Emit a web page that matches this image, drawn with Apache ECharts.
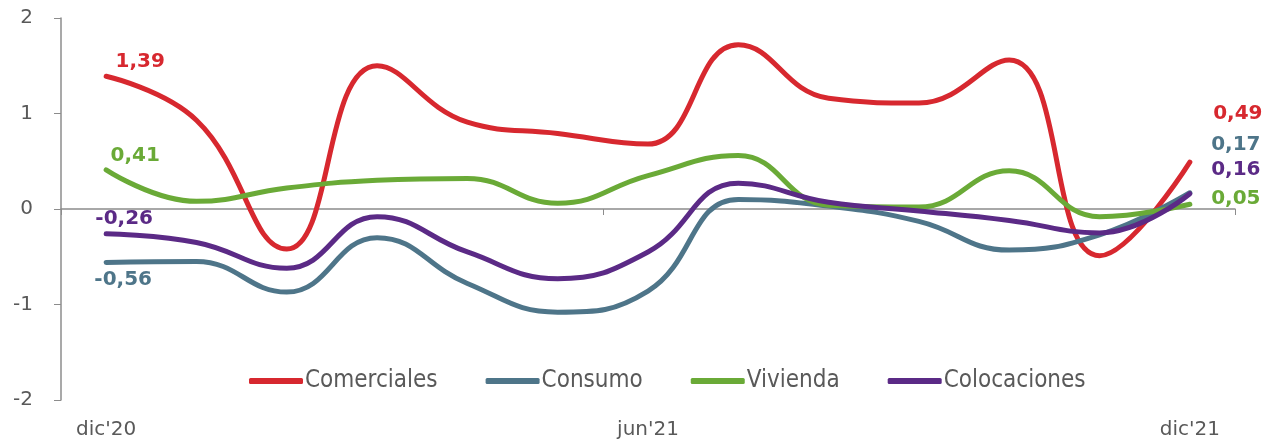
<!DOCTYPE html>
<html>
<head>
<meta charset="utf-8">
<script src="https://cdn.jsdelivr.net/npm/echarts@6/dist/echarts.min.js"></script>
<style>
  html, body { margin: 0; padding: 0; background: #fff; }
  #chart { width: 1277px; height: 442px; }
</style>
</head>
<body>
<div id="chart"></div>
<script>
var months = ["dic'20", "ene'21", "feb'21", "mar'21", "abr'21", "may'21", "jun'21",
              "jul'21", "ago'21", "sep'21", "oct'21", "nov'21", "dic'21"];
var comerciales  = [1.39, 0.93, -0.42, 1.50, 0.91, 0.79, 0.68, 1.72, 1.16, 1.11, 1.56, -0.49, 0.49];
var consumo      = [-0.56, -0.55, -0.87, -0.30, -0.78, -1.08, -0.86, 0.10, 0.03, -0.13, -0.43, -0.27, 0.17];
var vivienda     = [0.41, 0.08, 0.22, 0.30, 0.32, 0.06, 0.35, 0.56, 0.04, 0.02, 0.40, -0.08, 0.05];
var colocaciones = [-0.26, -0.35, -0.62, -0.08, -0.45, -0.73, -0.45, 0.27, 0.07, -0.02, -0.12, -0.25, 0.16];

var myChart = echarts.init(document.getElementById('chart'));

function fmt(p) {
    return p.value.toFixed(2).replace('.', ',');
}

// etiquetas solo en el primer y el ultimo punto
function withLabels(values, color, firstOffset, lastOffset) {
    return values.map(function (v, i) {
        if (i === 0 || i === values.length - 1) {
            return {
                value: v,
                label: {
                    show: true,
                    position: 'inside',
                    offset: i === 0 ? firstOffset : lastOffset,
                    color: color,
                    fontFamily: 'DejaVu Sans',
                    fontWeight: 'bold',
                    fontSize: 20,
                    formatter: fmt
                }
            };
        }
        return v;
    });
}

function line(name, color, values, firstOffset, lastOffset) {
    return {
        name: name,
        type: 'line',
        xAxisIndex: 0,
        smooth: 0.45,
        symbol: 'circle',
        symbolSize: 0,
        lineStyle: { color: color, width: 5, cap: 'round' },
        itemStyle: { color: color },
        data: withLabels(values, color, firstOffset, lastOffset)
    };
}

var option = {
    animation: false,
    grid: { left: 61, right: 42, top: 18, bottom: 42 },
    legend: {
        left: 244,
        top: 364,
        itemWidth: 54,
        itemHeight: 6,
        itemGap: 48,
        icon: 'roundRect',
        textStyle: { color: '#595959', fontFamily: 'DejaVu Sans Condensed', fontSize: 24, padding: [0, 0, 0, -3] },
        data: ['Comerciales', 'Consumo', 'Vivienda', 'Colocaciones']
    },
    xAxis: [
        {
            type: 'category',
            data: months,
            boundaryGap: true,
            axisLine: { onZero: true, lineStyle: { color: '#8c8c8c', width: 1.5 } },
            axisTick: {
                show: true,
                length: 6,
                lineStyle: { color: '#8c8c8c' },
                interval: function (index) { return index === 0 || index === 6; }
            },
            axisLabel: { show: false }
        },
        {
            type: 'category',
            data: months,
            position: 'bottom',
            boundaryGap: true,
            axisLine: { show: false, onZero: false },
            axisTick: { show: false },
            axisLabel: {
                interval: 5,
                margin: 20,
                color: '#595959',
                fontFamily: 'DejaVu Sans',
                fontSize: 20
            }
        }
    ],
    yAxis: {
        type: 'value',
        min: -2,
        max: 2,
        interval: 1,
        axisLine: { show: true, lineStyle: { color: '#8c8c8c', width: 1.5 } },
        axisTick: { show: true, length: 7, lineStyle: { color: '#8c8c8c' } },
        splitLine: { show: false },
        axisLabel: {
            margin: 28,
            color: '#595959',
            fontFamily: 'DejaVu Sans',
            fontSize: 20
        }
    },
    series: [
        line('Comerciales', '#d7282f', comerciales, [34, -14], [48, -48]),
        line('Consumo', '#4e7589', consumo, [17, 17], [46, -48]),
        line('Vivienda', '#6aaa37', vivienda, [29, -14], [46, -5]),
        line('Colocaciones', '#5b2a86', colocaciones, [18, -15], [46, -24])
    ]
};
myChart.setOption(option);
</script>
</body>
</html>
